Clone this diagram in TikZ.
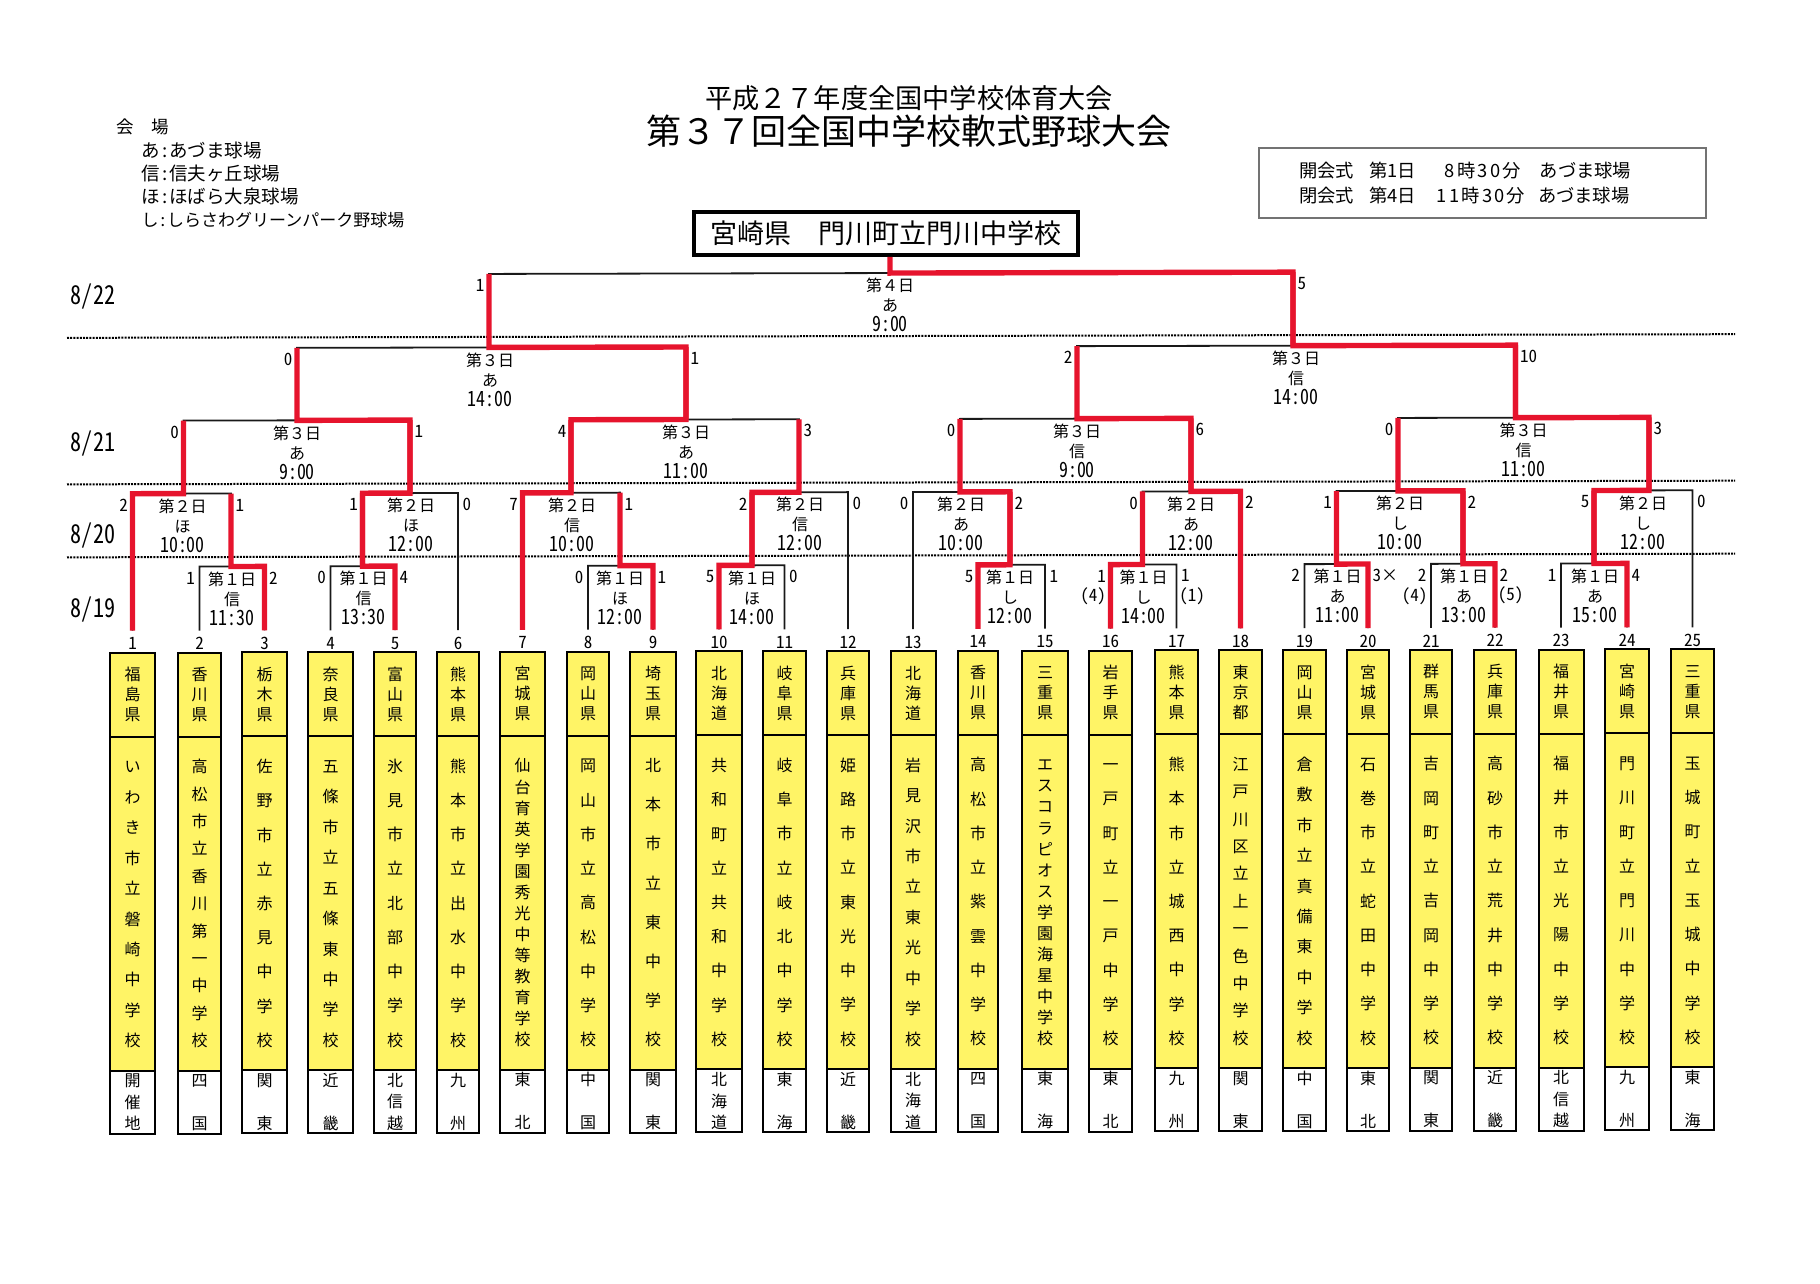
\documentclass[tikz,border=0pt]{standalone}
\usepackage{fontspec}
\setmainfont{Noto Sans CJK JP}
\newfontfamily\hw[RawFeature=+hwid]{Noto Sans CJK JP}
\newfontfamily\hwt[RawFeature=+hwid,FakeStretch=0.85]{Noto Sans CJK JP}
\newfontfamily\spaced[LetterSpace=12]{Noto Sans CJK JP}
\definecolor{winred}{HTML}{E6142D}
\definecolor{teamyellow}{HTML}{FFF466}
\makeatletter
\def\tate@go#1#2{\vbox to #2{\offinterlineskip\def\tate@sep{}%
  \@tfor\tate@c:=#1\do{\tate@sep\hbox to 1em{\vrule height .88em depth .12em width 0pt\hss\tate@c\hss}\def\tate@sep{\vfill}}}}
\newcommand\tate[2]{\expandafter\tate@go\expandafter{#2}{#1}}
\makeatother
\tikzset{
  every node/.style={inner sep=0pt},
  dayline/.style={line width=2pt,dash pattern=on 2pt off 1.2pt},
  bout/.style={line width=1.8pt,black!90},
  won/.style={line width=5.4pt,winred,line join=miter},
  prefbox/.style={draw,line width=2pt,fill=teamyellow,minimum height=84pt},
  schoolbox/.style={draw,line width=2pt,fill=teamyellow,minimum height=334pt},
  areabox/.style={draw,line width=2pt,fill=white,minimum height=63pt},
  tatefont/.style={font=\fontsize{16}{20}\selectfont},
  numfont/.style={font=\fontsize{17}{20}\selectfont\hw},
  boutlabel/.style={font=\fontsize{16}{20}\selectfont,align=center,anchor=north,yshift=-5pt},
  datefont/.style={font=\fontsize{26}{28}\selectfont\hwt},
  legendfont/.style={font=\fontsize{18.5}{20}\selectfont,anchor=west},
  ceremonyfont/.style={font=\fontsize{18.3}{20}\selectfont,anchor=west},
}
\begin{document}
\begin{tikzpicture}[x=1pt,y=-1pt]
\useasboundingbox (0,0) rectangle (1820,1283);
\begin{scope}[yslant=0.0022]
% titles
\node[font=\fontsize{27.2}{30}\selectfont] (title1) at (909,100) {平成２７年度全国中学校体育大会};
\node[font=\fontsize{35}{38}\selectfont] (title2) at (909,133) {第３７回全国中学校軟式野球大会};
% venues
\node[legendfont,font=\fontsize{17.5}{20}\selectfont] (venue) at (116,127) {会　場};
\node[legendfont] (venue1) at (141.5,151) {あ{\hw :}あづま球場};
\node[legendfont] (venue2) at (141.5,174) {信{\hw :}信夫ヶ丘球場};
\node[legendfont] (venue3) at (141.5,197) {ほ{\hw :}ほばら大泉球場};
\node[legendfont,font=\fontsize{17}{20}\selectfont] (venue4) at (141.5,220) {し{\hw :}しらさわグリーンパーク野球場};
% ceremony box
\node[draw=black!55,line width=2pt,minimum width=447pt,minimum height=70pt] (ceremony) at (1482.5,186) {};
\node[ceremonyfont] (open) at (1299,173) {開会式\hspace{15pt}第1日\hspace{29pt}{\spaced 8時30分}\hspace{19pt}あづま球場};
\node[ceremonyfont] (close) at (1299,198) {閉会式\hspace{15pt}第4日\hspace{21pt}{\spaced 11時30分}\hspace{13pt}あづま球場};
% dates and day lines
\foreach \n/\y in {1/338,2/484.5,3/557.5}
\draw[dayline] (67,\y) coordinate (dl\n) -- (1735,\y) coordinate (dr\n);
\foreach \n/\dt/\y in {a/8\slash 22/297,b/8\slash 21/443.5,c/8\slash 20/536,d/8\slash 19/609.5}
\node[datefont] (date\n) at (93,\y) {\dt};
% winner
\node[draw,line width=3.5pt,fill=white,minimum width=384pt,minimum height=43pt,font=\fontsize{27}{30}\selectfont] (win) at (886,235.5) {宮崎県　門川町立門川中学校};
% teams
\foreach \n/\x/\w/\pref/\pname/\reg in {
1/132.5/45/福島県/いわき市立磐崎中学校/開催地,
2/199.5/43/香川県/高松市立香川第一中学校/四国,
3/264.5/45/栃木県/佐野市立赤見中学校/関東,
4/330.5/45/奈良県/五條市立五條東中学校/近畿,
5/395/42/富山県/氷見市立北部中学校/北信越,
6/458/42/熊本県/熊本市立出水中学校/九州,
7/522.5/45/宮城県/仙台育英学園秀光中等教育学校/東北,
8/588/42/岡山県/岡山市立高松中学校/中国,
9/653/46/埼玉県/北本市立東中学校/関東,
10/719/46/北海道/共和町立共和中学校/北海道,
11/784.5/43/岐阜県/岐阜市立岐北中学校/東海,
12/848/42/兵庫県/姫路市立東光中学校/近畿,
13/913/45/北海道/岩見沢市立東光中学校/北海道,
14/978/40/香川県/高松市立紫雲中学校/四国,
15/1045/46/三重県/エスコラピオス学園海星中学校/東海,
16/1110.5/43/岩手県/一戸町立一戸中学校/東北,
17/1176.5/43/熊本県/熊本市立城西中学校/九州,
18/1240.5/43/東京都/江戸川区立上一色中学校/関東,
19/1304.5/43/岡山県/倉敷市立真備東中学校/中国,
20/1368/42/宮城県/石巻市立蛇田中学校/東北,
21/1431/42/群馬県/吉岡町立吉岡中学校/関東,
22/1495/42/兵庫県/高砂市立荒井中学校/近畿,
23/1561/45/福井県/福井市立光陽中学校/北信越,
24/1627/44/宮崎県/門川町立門川中学校/九州,
25/1692.5/43/三重県/玉城町立玉城中学校/東海}
{
\coordinate (p\n) at (\x,631);
\node[numfont] (num\n) at (\x,644) {\n};
\node[prefbox,tatefont,minimum width=\w pt] (pref\n) at (\x,695) {\tate{54pt}{\pref}};
\node[schoolbox,tatefont,minimum width=\w pt] (school\n) at (\x,904) {\tate{288pt}{\pname}};
\node[areabox,tatefont,minimum width=\w pt] (area\n) at (\x,1102.5) {\tate{57pt}{\reg}};
}
% bracket points
\foreach \m/\x in {a1/231,a2/362.5,a3/620,a4/752,a5/1010,a6/1142.5,a7/1336.5,a8/1463,a9/1594}
\coordinate (\m) at (\x,567);
\foreach \m/\x in {b1/183.5,b2/410,b3/571,b4/799,b5/960,b6/1191,b7/1398,b8/1649}
\coordinate (\m) at (\x,494);
\foreach \m/\x in {c1/297,c2/686,c3/1077,c4/1515.5}
\coordinate (\m) at (\x,421);
\foreach \m/\x in {d1/489,d2/1293}
\coordinate (\m) at (\x,348.5);
\coordinate (e1) at (890,275);
\def\bouts{a1/b1/p2/p3/p3/1/2,a2/b2/p4/p5/p5/0/4,a3/b3/p8/p9/p9/0/1,a4/b4/p10/p11/p10/5/0,a5/b5/p14/p15/p14/5/1,a6/b6/p16/p17/p16/1/1,a7/b7/p19/p20/p20/2/3×,a8/b7/p21/p22/p22/2/2,a9/b8/p23/p24/p24/1/4,
b1/c1/p1/a1/p1/2/1,b2/c1/a2/p6/a2/1/0,b3/c2/p7/a3/p7/7/1,b4/c2/a4/p12/a4/2/0,b5/c3/p13/a5/a5/0/2,b6/c3/a6/p18/p18/0/2,b7/c4/a7/a8/a8/1/2,b8/c4/a9/p25/a9/5/0,
c1/d1/b1/b2/b2/0/1,c2/d1/b3/b4/b3/4/3,c3/d2/b5/b6/b6/0/6,c4/d2/b7/b8/b8/0/3,
d1/e1/c1/c2/c2/0/1,d2/e1/c3/c4/c4/2/10,e1/win.south/d1/d2/d2/1/5}
\foreach \m/\p/\a/\b/\w/\sl/\sr in \bouts
\draw[bout] (\a) |- (\m) -| (\b);
\foreach \m/\p/\a/\b/\w/\sl/\sr in \bouts
\draw[won] (\w) |- (\m) -- (\m |- \p);
\foreach \m/\p/\a/\b/\w/\sl/\sr in \bouts {
\node[numfont,anchor=east,xshift=-4.5pt,yshift=-11.5pt] (\m-l) at (\a |- \m) {\sl};
\node[numfont,anchor=west,xshift=4.5pt,yshift=-11.5pt] (\m-r) at (\b |- \m) {\sr};
}
% extra innings
\foreach \n/\x/\s in {1/1093/(4),2/1192/(1),3/1414.5/(4),4/1510.5/(5)}
\node[numfont] (extra\n) at (\x,599) {\s};
% bout labels
\foreach \m/\dy/\vn/\tm/\dx in {
a1/１/信/11:30/1,a2/１/信/13:30/1,a3/１/ほ/12:00/0,a4/１/ほ/14:00/0,a5/１/し/12:00/0,a6/１/し/14:00/1,a7/１/あ/11:00/1,a8/１/あ/13:00/1,a9/１/あ/15:00/1,
b1/２/ほ/10:00/-1,b2/２/ほ/12:00/1,b3/２/信/10:00/1,b4/２/信/12:00/1,b5/２/あ/10:00/1,b6/２/あ/12:00/0,b7/２/し/10:00/2,b8/２/し/12:00/-6,
c1/３/あ/9:00/0,c2/３/あ/11:00/0,c3/３/信/9:00/0,c4/３/信/11:00/8,
d1/３/あ/14:00/1,d2/３/信/14:00/3,e1/４/あ/9:00/0}
\node[boutlabel,xshift=\dx pt] (\m-t) at (\m) {第\dy 日\\\vn\\{\fontsize{21}{20}\selectfont\hwt \tm}};
\end{scope}
\end{tikzpicture}
\end{document}
